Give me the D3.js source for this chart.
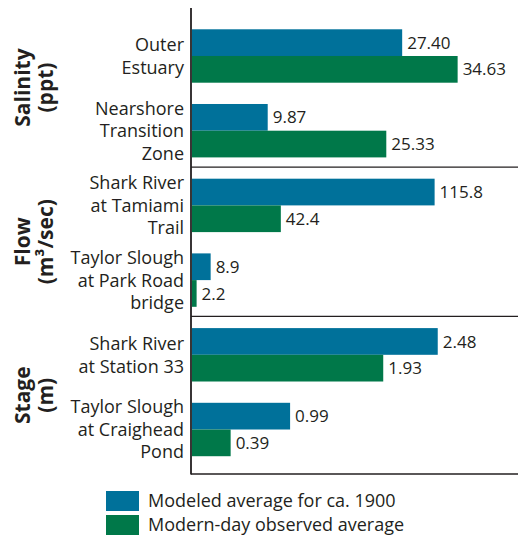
<!DOCTYPE html>
<html><head><meta charset="utf-8">
<script src="https://cdn.jsdelivr.net/npm/d3@7"></script>
<style>body{margin:0;background:#fff}svg{display:block}text{font-family:"Open Sans",sans-serif;fill:#231f20}</style>
</head><body><svg id="c" width="529" height="535"></svg>
<script>
const categories = [
  ["Outer","Estuary"],
  ["Nearshore","Transition","Zone"],
  ["Shark River","at Tamiami","Trail"],
  ["Taylor Slough","at Park Road","bridge"],
  ["Shark River","at Station 33"],
  ["Taylor Slough","at Craighead","Pond"]
];
const categoryPanel = [0,0,1,1,2,2];
const panelNames = ["Salinity","Flow","Stage"];
const panelUnits = ["(ppt)","(m\u00B3/sec)","(m)"];
const panelMax = [42.5,155.6,3.29];
const modeled = [27.40, 9.87, 115.8, 8.9, 2.48, 0.99];
const observed = [34.63, 25.33, 42.4, 2.2, 1.93, 0.39];
const modeledLabels = ["27.40","9.87","115.8","8.9","2.48","0.99"];
const observedLabels = ["34.63","25.33","42.4","2.2","1.93","0.39"];
const seriesNames = ["Modeled average for ca. 1900","Modern-day observed average"];
const seriesColors = ["#00719A","#007849"];

const svg = d3.select("#c");
const x0 = 192, x1 = 518, yTop = 8, yBot = 474;
const ids = categories.map((d,i)=>i);
const y = d3.scaleBand().domain(ids).range([yTop, 477.5]).paddingInner(0.285).paddingOuter(0.285);
const ySub = d3.scaleBand().domain([0,1]).range([0, y.bandwidth()]);
const xs = panelMax.map(m => d3.scaleLinear().domain([0,m]).range([x0,x1]));

const rows = ids.map(i => ({i, p: categoryPanel[i], vals:[modeled[i],observed[i]], labs:[modeledLabels[i],observedLabels[i]]}));

// bars
const g = svg.append("g");
rows.forEach(r => {
  r.vals.forEach((v,s) => {
    const sc = xs[r.p];
    g.append("rect").attr("x", sc(0)).attr("y", y(r.i)+ySub(s))
      .attr("width", sc(v)-sc(0)).attr("height", ySub.bandwidth()).attr("fill", seriesColors[s]);
    g.append("text").attr("x", sc(v)+5).attr("y", y(r.i)+ySub(s)+ySub.bandwidth()/2)
      .attr("dy","0.36em").attr("font-size",17).text(r.labs[s]);
  });
  // category labels
  const lines = categories[r.i];
  const cy = y(r.i)+y.bandwidth()/2;
  const lh = 22.5;
  const t = svg.append("text").attr("text-anchor","end").attr("font-size",18);
  lines.forEach((l,k)=>{
    t.append("tspan").attr("x",184).attr("y", cy + (k-(lines.length-1)/2)*lh).attr("dy","0.36em").text(l);
  });
});

// separators
const sepY = [1,3].map(i => y(i) + y.bandwidth() + y.step()*y.paddingInner()/2 - 1);
sepY.forEach(sy => svg.append("line").attr("x1",x0-1).attr("x2",x1).attr("y1",sy).attr("y2",sy).attr("stroke","#231f20").attr("stroke-width",1.3));
svg.append("line").attr("x1",x0-1).attr("x2",x1).attr("y1",yBot).attr("y2",yBot).attr("stroke","#231f20").attr("stroke-width",1.3);
svg.append("line").attr("x1",x0-1).attr("x2",x0-1).attr("y1",yTop).attr("y2",yBot+0.6).attr("stroke","#231f20").attr("stroke-width",1.8);

// panel titles
const bounds = [yTop, ...sepY, yBot];
panelNames.forEach((n,p)=>{
  const cy = (bounds[p]+bounds[p+1])/2;
  svg.append("text").attr("transform",`translate(30,${cy}) rotate(-90)`).attr("text-anchor","middle")
    .attr("font-size",21).attr("font-weight","bold").text(n);
  svg.append("text").attr("transform",`translate(53,${cy}) rotate(-90)`).attr("text-anchor","middle")
    .attr("font-size",21).attr("font-weight","bold").text(panelUnits[p]);
});

// legend
seriesNames.forEach((n,s)=>{
  const ly = 491 + s*24;
  svg.append("rect").attr("x",106).attr("y",ly).attr("width",33).attr("height",20).attr("fill",seriesColors[s]);
  svg.append("text").attr("x",148).attr("y",ly+10).attr("dy","0.36em").attr("font-size",18).text(n);
});
</script></body></html>
